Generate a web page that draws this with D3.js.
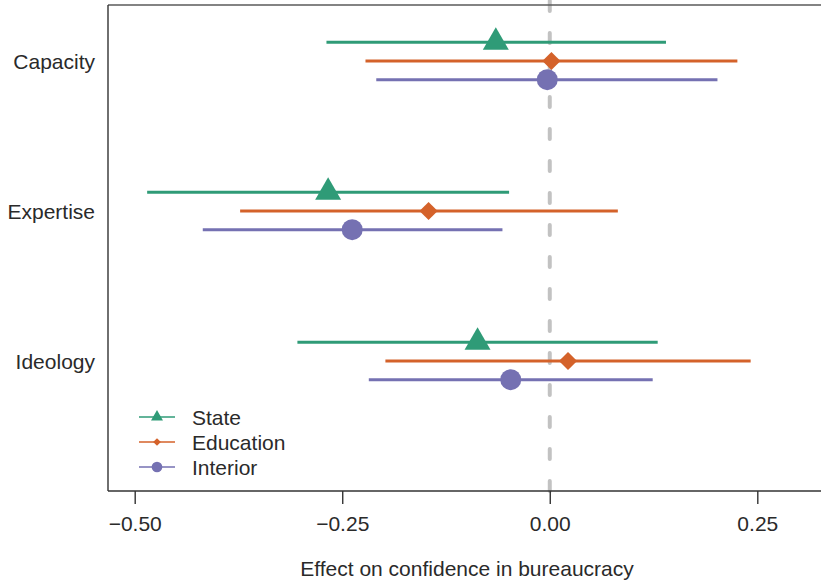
<!DOCTYPE html>
<html>
<head>
<meta charset="utf-8">
<script src="https://cdn.jsdelivr.net/npm/d3@7"></script>
<style>
  html, body { margin: 0; padding: 0; background: #fff; }
  svg { display: block; font-family: "Liberation Sans", Arial, Helvetica, sans-serif; }
</style>
</head>
<body>
<svg id="chart" width="821" height="583"></svg>
<script>
// ---- data ----
const categories = ["Capacity", "Expertise", "Ideology"];
const seriesNames = ["State", "Education", "Interior"];
const estimates = {
  State:     [-0.065, -0.267, -0.087],
  Education: [ 0.002, -0.146,  0.022],
  Interior:  [-0.003, -0.238, -0.047]
};
const lowerCI = {
  State:     [-0.269, -0.485, -0.304],
  Education: [-0.222, -0.373, -0.198],
  Interior:  [-0.209, -0.418, -0.218]
};
const upperCI = {
  State:     [ 0.140, -0.049,  0.130],
  Education: [ 0.226,  0.082,  0.242],
  Interior:  [ 0.202, -0.057,  0.124]
};
const xTicks = [-0.50, -0.25, 0.00, 0.25];
const xTitle = "Effect on confidence in bureaucracy";

// ---- styling ----
const colors = { State: "#2f9b77", Education: "#d4622a", Interior: "#7571b2" };
const plotLeft = 108, plotTop = 5, plotBottom = 491, plotRight = 821;

const svg = d3.select("#chart");

const x = d3.scaleLinear().domain([-0.5, 0.25]).range([134.7, 757.3]);
const yCat = d3.scalePoint().domain(categories).range([61, 361]);
const yOff = d3.scalePoint().domain(seriesNames).range([-18.7, 18.7]);

// zero reference line (dashed)
svg.append("line")
  .attr("x1", x(0)).attr("x2", x(0))
  .attr("y1", plotTop - 4).attr("y2", plotBottom)
  .attr("stroke", "#c2c2c2").attr("stroke-width", 4)
  .attr("stroke-linecap", "round")
  .attr("stroke-dasharray", "10,22");

// clip for plot area
svg.append("clipPath").attr("id", "plotclip")
  .append("rect").attr("x", plotLeft).attr("y", plotTop - 6)
  .attr("width", plotRight - plotLeft).attr("height", plotBottom - plotTop + 6);

// box: top, left, bottom
svg.append("line").attr("x1", plotLeft).attr("x2", plotRight)
  .attr("y1", plotTop).attr("y2", plotTop)
  .attr("stroke", "#5a5a5a").attr("stroke-width", 1.4);
svg.append("line").attr("x1", plotLeft).attr("x2", plotLeft)
  .attr("y1", plotTop).attr("y2", plotBottom)
  .attr("stroke", "#333").attr("stroke-width", 1.4);

// x axis
const xAxis = d3.axisBottom(x).tickValues(xTicks)
  .tickFormat(d3.format(".2f")).tickSize(13).tickPadding(12).tickSizeOuter(0);
const gx = svg.append("g").attr("transform", `translate(0,${plotBottom})`).call(xAxis);
gx.select(".domain").remove();
gx.append("line").attr("x1", plotLeft).attr("x2", plotRight)
  .attr("stroke", "#333").attr("stroke-width", 1.4);
gx.selectAll(".tick line").attr("stroke", "#333").attr("stroke-width", 1.4);
gx.selectAll(".tick text")
  .attr("fill", "#2a2a2a")
  .attr("font-size", 21)
  .attr("font-family", "Liberation Sans, Arial, sans-serif");

svg.append("text")
  .attr("x", 467).attr("y", 576)
  .attr("text-anchor", "middle")
  .attr("font-size", 21).attr("fill", "#2a2a2a")
  .text(xTitle);

// category labels
svg.append("g").selectAll("text").data(categories).join("text")
  .attr("x", 95).attr("y", d => yCat(d))
  .attr("dy", "0.38em")
  .attr("text-anchor", "end")
  .attr("font-size", 21).attr("fill", "#2a2a2a")
  .text(d => d);

// marker helpers
const symbolFor = {
  State: d3.symbol().type(d3.symbolTriangle),
  Education: d3.symbol().type(d3.symbolSquare),
  Interior: d3.symbol().type(d3.symbolCircle)
};
const bigSize = { State: 292, Education: 165, Interior: 346 };
const smallSize = { State: 62, Education: 30, Interior: 90 };
const rotFor = { State: 0, Education: 45, Interior: 0 };

const plot = svg.append("g").attr("clip-path", "url(#plotclip)");

seriesNames.forEach(s => {
  const rows = categories.map((c, i) => ({
    cat: c, est: estimates[s][i], lo: lowerCI[s][i], hi: upperCI[s][i]
  }));
  const g = plot.append("g");
  g.selectAll("line").data(rows).join("line")
    .attr("x1", d => x(d.lo)).attr("x2", d => x(d.hi))
    .attr("y1", d => yCat(d.cat) + yOff(s))
    .attr("y2", d => yCat(d.cat) + yOff(s))
    .attr("stroke", colors[s]).attr("stroke-width", 3);
  g.selectAll("path").data(rows).join("path")
    .attr("d", symbolFor[s].size(bigSize[s])())
    .attr("transform", d => `translate(${x(d.est)},${yCat(d.cat) + yOff(s)}) rotate(${rotFor[s]})`)
    .attr("fill", colors[s]);
});

// legend
const legend = svg.append("g");
const legY = d3.scalePoint().domain(seriesNames).range([417, 467]);
seriesNames.forEach(s => {
  const yy = legY(s);
  legend.append("line").attr("x1", 139).attr("x2", 175)
    .attr("y1", yy).attr("y2", yy)
    .attr("stroke", colors[s]).attr("stroke-width", 1.6);
  legend.append("path")
    .attr("d", d3.symbol().type(symbolFor[s].type()).size(smallSize[s])())
    .attr("transform", `translate(157,${yy}) rotate(${rotFor[s]})`)
    .attr("fill", colors[s]);
  legend.append("text").attr("x", 192).attr("y", yy).attr("dy", "0.36em")
    .attr("font-size", 21).attr("fill", "#2a2a2a").text(s);
});
</script>
</body>
</html>
